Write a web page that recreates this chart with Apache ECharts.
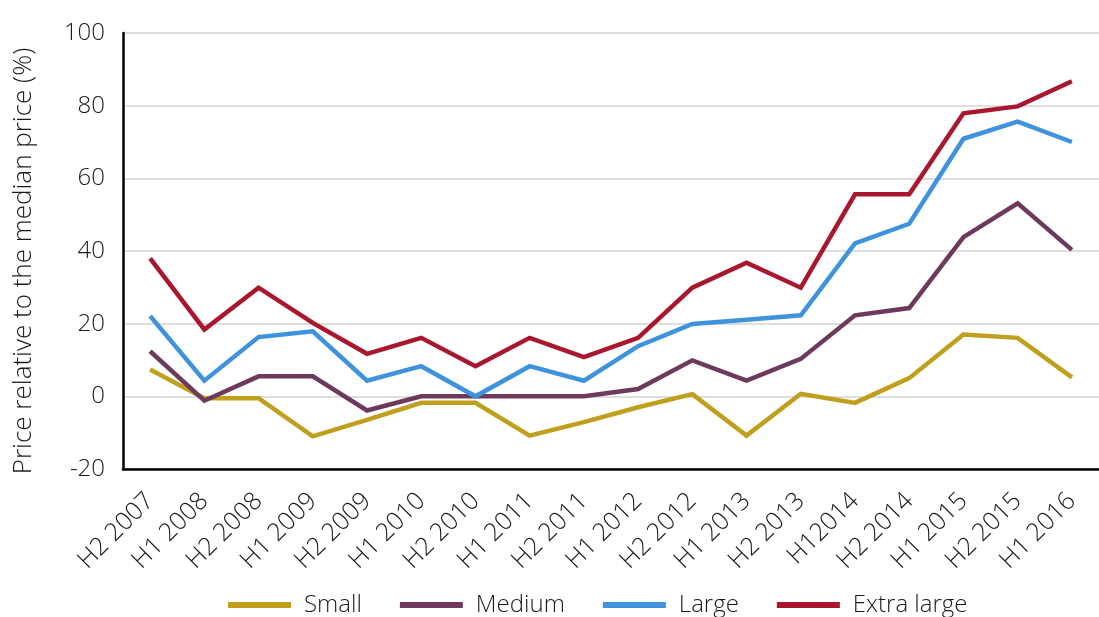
<!DOCTYPE html>
<html>
<head>
<meta charset="utf-8">
<script src="https://cdn.jsdelivr.net/npm/echarts@6/dist/echarts.min.js"></script>
<style>
  html, body { margin: 0; padding: 0; background: #fff; }
  #chart { width: 1099px; height: 617px; }
</style>
</head>
<body>
<div id="chart"></div>
<script>
// Half-year periods
const categories = ['H2 2007', 'H1 2008', 'H2 2008', 'H1 2009', 'H2 2009', 'H1 2010',
  'H2 2010', 'H1 2011', 'H2 2011', 'H1 2012', 'H2 2012', 'H1 2013', 'H2 2013',
  'H12014', 'H2 2014', 'H1 2015', 'H2 2015', 'H1 2016'];

// Price relative to the median price (%), by size class
const small = [7.4, -0.5, -0.5, -11.0, -6.5, -1.8, -1.8, -10.8, -7.1, -3.0, 0.6, -10.8, 0.7, -1.8, 5.0, 17.0, 16.1, 5.2];
const medium = [12.4, -1.2, 5.5, 5.5, -3.9, 0, 0, 0, 0, 2.0, 9.9, 4.3, 10.3, 22.3, 24.3, 43.8, 53.1, 40.3];
const large = [22.1, 4.3, 16.3, 17.9, 4.3, 8.3, 0, 8.3, 4.3, 13.8, 19.9, 21.1, 22.3, 42.1, 47.5, 70.9, 75.6, 70.0];
const extraLarge = [38.0, 18.4, 29.9, 20.2, 11.7, 16.1, 8.3, 16.1, 10.8, 16.1, 29.9, 36.8, 29.9, 55.6, 55.6, 77.9, 79.8, 86.7];

const yTicks = { min: -20, max: 100, interval: 20 };

const FONT = '"Open Sans", "Noto Sans", sans-serif';
const WEIGHT = 300;
const TEXT = '#1a1a1a';

const seriesDefs = [
  { name: 'Small', data: small, color: '#bf9f1c' },
  { name: 'Medium', data: medium, color: '#6d3a5d' },
  { name: 'Large', data: large, color: '#3f93dd' },
  { name: 'Extra large', data: extraLarge, color: '#a9172e' }
];

const chart = echarts.init(document.getElementById('chart'), null, { renderer: 'canvas' });

chart.setOption({
  animation: false,
  backgroundColor: '#fff',
  textStyle: { fontFamily: FONT, fontWeight: WEIGHT },
  grid: { left: 123, right: -23, top: 33, bottom: 148, containLabel: false },
  legend: {
    top: 588,
    left: 223,
    itemWidth: 63,
    itemHeight: 6,
    itemGap: 38,
    icon: 'rect',
    textStyle: { fontFamily: FONT, fontWeight: WEIGHT, fontSize: 24, color: TEXT, padding: [0, 0, 0, 8] },
    data: seriesDefs.map(s => s.name)
  },
  xAxis: {
    type: 'category',
    data: categories,
    boundaryGap: true,
    axisLine: { show: true, onZero: false, lineStyle: { color: '#000', width: 2.5 } },
    axisTick: { show: false },
    axisLabel: { rotate: 45, margin: 28, fontSize: 25, color: TEXT, fontFamily: FONT, fontWeight: WEIGHT, interval: 0 },
    splitLine: { show: false }
  },
  yAxis: {
    type: 'value',
    min: yTicks.min,
    max: yTicks.max,
    interval: yTicks.interval,
    name: 'Price relative to the median price (%)',
    nameLocation: 'middle',
    nameGap: 86,
    nameTextStyle: { fontSize: 26, color: TEXT, fontFamily: FONT, fontWeight: WEIGHT, padding: [0, 20, 0, 0] },
    axisLine: { show: true, lineStyle: { color: '#000', width: 2.5 } },
    axisTick: { show: false },
    axisLabel: { fontSize: 24, color: TEXT, fontFamily: FONT, fontWeight: WEIGHT, margin: 18 },
    splitLine: { show: true, lineStyle: { color: '#d3d3d3', width: 1.5 } }
  },
  series: seriesDefs.map(s => ({
    name: s.name,
    type: 'line',
    data: s.data,
    symbol: 'none',
    lineStyle: { color: s.color, width: 4.5, join: 'miter' },
    itemStyle: { color: s.color },
    emphasis: { disabled: true }
  }))
});
</script>
</body>
</html>
